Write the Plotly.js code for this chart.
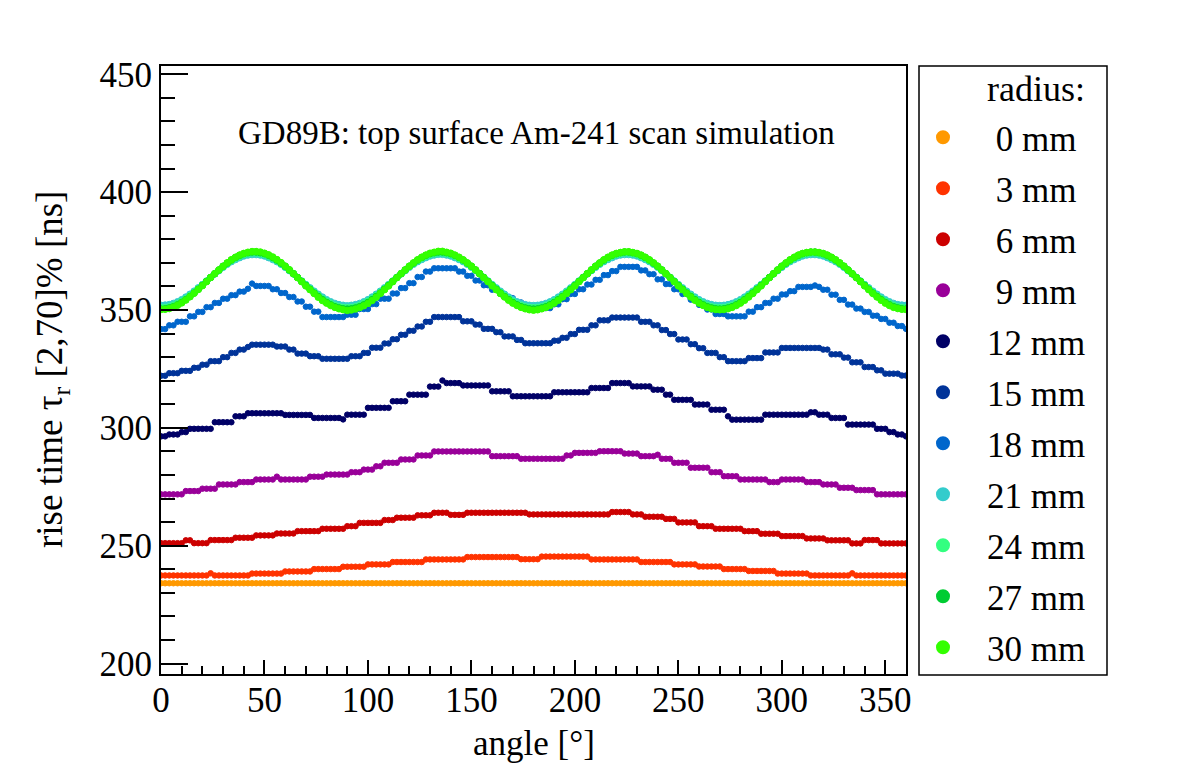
<!DOCTYPE html>
<html>
<head>
<meta charset="utf-8">
<script src="https://cdn.plot.ly/plotly-3.0.1.min.js"></script>
<style>
  html, body { margin: 0; padding: 0; background: #ffffff; }
  #chart { width: 1182px; height: 782px; }
</style>
</head>
<body>
<div id="chart"></div>
<script>
// scan angle in degrees
const angles = [
  0,2,4,6,8,10,12,14,16,18,
  20,22,24,26,28,30,32,34,36,38,
  40,42,44,46,48,50,52,54,56,58,
  60,62,64,66,68,70,72,74,76,78,
  80,82,84,86,88,90,92,94,96,98,
  100,102,104,106,108,110,112,114,116,118,
  120,122,124,126,128,130,132,134,136,138,
  140,142,144,146,148,150,152,154,156,158,
  160,162,164,166,168,170,172,174,176,178,
  180,182,184,186,188,190,192,194,196,198,
  200,202,204,206,208,210,212,214,216,218,
  220,222,224,226,228,230,232,234,236,238,
  240,242,244,246,248,250,252,254,256,258,
  260,262,264,266,268,270,272,274,276,278,
  280,282,284,286,288,290,292,294,296,298,
  300,302,304,306,308,310,312,314,316,318,
  320,322,324,326,328,330,332,334,336,338,
  340,342,344,346,348,350,352,354,356,358,
  360
];

// legend labels (source radius)
const radiusLabels = ['\u00a00 mm','\u00a03 mm','\u00a06 mm','\u00a09 mm','12 mm','15 mm','18 mm','21 mm','24 mm','27 mm','30 mm'];
const radiusColors = ['#ff9900','#ff3300','#cc0000','#990099','#000066','#003399','#0066cc','#33cccc','#33ff80','#00cc33','#33ff00'];

// rise time tau_r [2,70]% in ns, one array per radius
const rt0mm = [
  234.1,234.1,234.1,234.1,234.1,234.1,234.1,234.1,234.1,234.1,
  234.1,234.1,234.1,234.1,234.1,234.1,234.1,234.1,234.1,234.1,
  234.1,234.1,234.1,234.1,234.1,234.1,234.1,234.1,234.1,234.1,
  234.1,234.1,234.1,234.1,234.1,234.1,234.1,234.1,234.1,234.1,
  234.1,234.1,234.1,234.1,234.1,234.1,234.1,234.1,234.1,234.1,
  234.1,234.1,234.1,234.1,234.1,234.1,234.1,234.1,234.1,234.1,
  234.1,234.1,234.1,234.1,234.1,234.1,234.1,234.1,234.1,234.1,
  234.1,234.1,234.1,234.1,234.1,234.1,234.1,234.1,234.1,234.1,
  234.1,234.1,234.1,234.1,234.1,234.1,234.1,234.1,234.1,234.1,
  234.1,234.1,234.1,234.1,234.1,234.1,234.1,234.1,234.1,234.1,
  234.1,234.1,234.1,234.1,234.1,234.1,234.1,234.1,234.1,234.1,
  234.1,234.1,234.1,234.1,234.1,234.1,234.1,234.1,234.1,234.1,
  234.1,234.1,234.1,234.1,234.1,234.1,234.1,234.1,234.1,234.1,
  234.1,234.1,234.1,234.1,234.1,234.1,234.1,234.1,234.1,234.1,
  234.1,234.1,234.1,234.1,234.1,234.1,234.1,234.1,234.1,234.1,
  234.1,234.1,234.1,234.1,234.1,234.1,234.1,234.1,234.1,234.1,
  234.1,234.1,234.1,234.1,234.1,234.1,234.1,234.1,234.1,234.1,
  234.1,234.1,234.1,234.1,234.1,234.1,234.1,234.1,234.1,234.1,
  234.1
];

const rt3mm = [
  237.4,237.4,237.4,237.4,237.4,237.4,237.4,237.4,237.4,237.4,
  237.4,237.4,238.3,237.4,237.4,237.4,237.4,237.4,237.4,237.4,
  237.4,237.4,238.2,238.2,238.2,238.2,238.2,238.2,238.2,238.2,
  239.1,239.1,239.1,239.1,239.1,239.1,239.1,240.1,240.1,240.1,
  240.1,240.1,240.1,240.1,241.1,241.1,241.1,241.1,241.1,241.1,
  242.1,242.1,242.1,242.1,242.1,242.1,243.1,243.1,243.1,243.1,
  243.1,243.1,243.1,243.1,244.2,244.2,244.2,244.2,244.2,244.2,
  244.2,244.2,244.2,244.2,245.2,245.2,245.2,245.2,245.2,245.2,
  245.2,245.2,245.2,245.2,245.2,245.2,245.2,244.3,244.3,244.3,
  244.3,244.3,245.4,245.4,245.4,245.4,245.4,245.4,245.4,245.4,
  245.4,245.4,245.4,245.4,244.2,244.2,244.2,244.2,244.2,244.2,
  244.2,244.2,244.2,244.2,244.2,244.2,243.1,243.1,243.1,243.1,
  243.1,243.1,243.1,243.1,242.1,242.1,242.1,242.1,242.1,242.1,
  241.2,241.2,241.2,241.2,241.2,241.2,240.1,240.1,240.1,240.1,
  240.1,240.1,239.3,239.3,239.3,239.3,239.3,239.3,239.3,238.2,
  238.2,238.2,238.2,238.2,238.2,238.2,238.2,237.4,237.4,237.4,
  237.4,237.4,237.4,237.4,237.4,237.4,237.4,238.3,237.4,237.4,
  237.4,237.4,237.4,237.4,237.4,237.4,237.4,237.4,237.4,237.4,
  237.4
];

const rt6mm = [
  251.1,251.1,251.1,251.1,251.1,251.1,252.3,252.3,251.1,251.1,
  251.1,251.1,252.4,252.4,252.4,252.4,252.4,252.4,253.4,253.4,
  253.4,253.4,253.4,254.4,254.4,254.4,254.4,254.4,255.2,255.2,
  255.2,255.2,255.2,256.2,256.2,256.2,256.2,256.2,256.2,257.2,
  257.2,257.2,257.2,257.2,257.2,258.3,258.3,258.3,259.7,259.7,
  259.7,259.7,259.7,259.7,260.9,260.9,260.9,261.9,261.9,261.9,
  261.9,261.9,262.9,262.9,262.9,262.9,264.0,264.0,264.0,264.0,
  263.1,263.1,263.1,263.1,264.0,264.0,264.0,264.0,264.0,264.0,
  264.0,264.0,264.0,264.0,264.0,264.0,264.0,264.0,264.0,263.3,
  263.3,263.3,263.3,263.3,263.3,263.3,263.3,263.3,263.3,263.3,
  263.3,263.3,263.3,263.3,263.3,263.3,263.3,263.3,263.3,264.3,
  264.3,264.3,264.3,264.3,263.3,263.3,263.3,262.3,262.3,262.3,
  262.3,262.3,261.4,261.4,261.4,259.9,259.9,259.9,259.9,259.9,
  258.3,258.3,258.3,258.3,257.2,257.2,257.2,257.2,257.2,257.2,
  257.2,256.2,256.2,256.2,256.2,255.1,255.1,255.1,255.1,255.1,
  254.1,254.1,254.1,254.1,254.1,254.1,253.1,253.1,253.1,253.1,
  253.1,252.3,252.3,252.3,252.3,252.3,252.3,251.0,251.0,251.0,
  252.4,252.4,252.4,252.4,251.0,251.0,251.0,251.0,251.0,251.0,
  251.0
];

const rt9mm = [
  271.8,271.8,271.8,271.8,271.8,271.8,273.2,273.2,273.2,273.2,
  274.2,274.2,274.2,274.2,276.0,276.0,276.0,276.0,276.0,277.0,
  277.0,277.0,277.0,278.1,278.1,278.1,278.1,278.1,279.3,278.1,
  278.1,278.1,278.1,278.1,278.1,278.1,279.3,279.3,279.3,279.3,
  280.2,280.2,280.2,280.2,280.2,280.2,281.2,281.2,281.2,282.3,
  282.3,282.3,283.7,283.7,285.2,285.2,285.2,285.2,286.6,286.6,
  286.6,286.6,288.3,288.3,288.3,288.3,290.0,290.0,290.0,290.0,
  290.0,290.0,290.0,290.0,290.0,290.0,290.0,290.0,290.0,290.0,
  288.0,288.0,288.0,288.0,288.0,288.0,288.0,286.9,286.9,286.9,
  286.9,286.9,286.9,286.9,286.9,286.9,286.9,286.9,288.3,288.3,
  289.4,289.4,289.4,289.4,289.4,289.4,290.1,290.1,290.1,290.1,
  290.1,290.1,289.1,289.1,289.1,289.1,288.0,288.0,288.0,288.0,
  288.6,286.9,286.9,286.9,285.2,285.2,285.2,285.2,283.1,283.1,
  283.1,283.1,283.1,281.2,281.2,281.2,279.5,279.5,279.5,279.5,
  278.1,278.1,278.1,278.1,278.1,278.1,278.1,277.0,277.0,277.0,
  278.1,278.1,278.1,278.1,278.1,278.1,277.0,277.0,277.0,277.0,
  276.0,276.0,276.0,276.0,274.6,274.6,274.6,274.6,273.6,273.6,
  273.6,273.6,273.6,271.8,271.8,271.8,271.8,271.8,271.8,271.8,
  271.8
];

const rt12mm = [
  296.4,296.4,297.2,297.2,297.2,298.2,298.2,299.6,299.6,299.6,
  299.6,299.6,299.6,302.4,302.4,302.4,302.4,302.4,304.9,304.9,
  304.9,306.2,306.2,306.2,306.2,306.2,306.2,306.2,306.2,306.2,
  305.5,305.5,305.5,305.5,305.5,305.5,305.5,304.2,304.2,304.2,
  304.2,304.2,304.2,304.2,303.6,305.6,305.6,305.6,305.6,305.6,
  308.5,308.5,308.5,308.5,308.5,308.5,311.3,311.3,311.3,311.3,
  314.1,314.1,314.1,314.1,314.1,317.5,317.5,317.5,320.1,319.0,
  319.0,319.0,319.0,318.0,318.0,318.0,318.0,318.0,318.0,318.0,
  315.5,315.5,315.5,315.5,315.5,313.4,313.4,313.4,313.4,313.4,
  313.4,313.4,313.4,313.4,313.4,315.1,315.1,315.1,315.1,315.1,
  315.1,315.1,315.1,315.1,316.9,316.9,316.9,316.9,316.9,319.0,
  319.0,319.0,319.0,319.0,317.6,317.6,317.6,317.6,317.6,316.2,
  316.2,316.2,314.1,314.1,311.9,311.9,311.9,311.9,311.9,309.9,
  309.9,309.9,309.9,307.7,307.7,307.7,307.7,304.9,303.5,303.5,
  303.5,303.5,303.5,303.5,303.5,303.5,305.6,305.6,305.6,305.6,
  305.6,305.6,305.6,305.6,305.6,305.6,305.6,306.6,306.6,305.6,
  305.6,305.6,304.2,304.2,304.2,304.2,301.4,301.4,301.4,301.4,
  301.4,301.4,301.4,299.6,299.6,299.6,298.2,298.2,297.2,297.2,
  296.4
];

const rt15mm = [
  322.1,322.1,323.2,323.2,323.2,324.2,324.2,324.2,325.5,325.5,
  326.8,326.8,328.3,328.3,328.3,330.0,330.0,331.8,331.8,333.2,
  333.2,334.3,335.3,335.3,335.3,335.3,335.3,335.3,334.5,334.5,
  334.5,333.2,333.2,331.5,331.5,331.5,330.4,330.4,330.4,329.3,
  329.3,329.3,329.3,329.3,329.3,329.3,330.4,330.4,330.4,331.8,
  331.8,334.0,334.0,334.0,335.8,335.8,337.6,337.6,339.5,339.5,
  341.2,341.2,343.0,343.0,345.0,345.0,347.0,347.0,347.0,347.0,
  347.0,347.0,347.0,345.2,345.2,345.2,343.8,343.8,342.0,342.0,
  342.0,340.6,340.6,338.8,338.8,338.8,337.3,337.3,335.9,335.9,
  335.9,335.9,335.9,335.9,335.9,337.0,337.0,338.2,338.2,339.8,
  339.8,341.6,341.6,341.6,343.5,343.5,345.6,345.6,345.6,346.8,
  346.8,346.8,346.8,346.8,346.8,346.8,345.0,345.0,345.0,343.5,
  343.5,341.5,341.5,339.8,339.8,337.5,337.5,337.5,335.5,335.5,
  333.8,333.8,331.8,331.8,331.8,330.0,330.0,328.3,328.3,328.3,
  328.3,328.3,329.6,329.6,329.6,329.6,332.0,332.0,332.0,332.0,
  333.9,333.9,333.9,333.9,333.9,333.9,333.9,333.9,333.9,333.9,
  333.2,333.2,331.2,331.2,331.2,329.8,329.8,327.8,327.8,327.8,
  325.8,325.8,325.8,324.4,324.4,323.0,323.0,323.0,323.0,322.2,
  322.2
];

const rt18mm = [
  341.9,341.9,343.5,343.5,345.0,345.0,345.0,347.3,347.3,349.2,
  349.2,351.2,351.2,353.0,353.0,354.8,354.8,356.3,356.3,357.8,
  357.8,359.0,361.2,360.2,360.2,360.2,360.2,358.8,358.8,357.2,
  357.2,355.5,355.5,353.6,353.6,351.4,351.4,349.3,349.3,347.0,
  347.0,347.0,347.0,347.0,347.0,348.0,348.0,348.0,350.4,350.4,
  350.4,352.5,352.5,354.8,354.8,354.8,357.0,357.0,359.3,359.3,
  361.4,361.4,364.0,364.0,366.3,366.3,367.7,367.7,367.7,367.7,
  367.7,367.7,366.3,366.3,364.5,364.5,362.5,362.5,360.5,360.5,
  358.6,358.6,356.8,356.8,355.0,355.0,353.2,353.2,352.0,350.8,
  350.8,350.8,350.8,350.8,350.8,352.4,352.4,354.6,354.6,356.8,
  356.8,358.8,358.8,360.8,360.8,362.8,362.8,364.8,364.8,366.5,
  366.5,368.3,368.3,368.3,368.3,368.3,366.8,366.8,365.2,365.2,
  363.0,363.0,361.0,361.0,358.8,358.8,356.8,356.8,354.4,354.4,
  352.2,352.2,350.2,350.2,348.3,348.3,348.3,347.3,347.3,347.3,
  347.3,347.3,349.3,349.3,351.2,351.2,353.0,353.0,354.8,354.8,
  356.6,356.6,358.0,358.0,359.8,359.8,359.8,359.8,360.4,359.8,
  358.6,358.6,356.5,356.5,354.3,354.3,352.3,352.3,350.6,350.6,
  349.2,349.2,347.6,347.6,346.2,346.2,344.6,344.6,343.2,343.2,
  342.0
];

const rt21mm = [
  352.0,352.1,352.3,352.8,353.5,354.4,355.5,356.7,358.0,359.4,
  360.8,362.3,363.8,365.3,366.7,368.1,369.4,370.5,371.4,372.2,
  372.9,373.3,373.5,373.5,373.3,372.9,372.2,371.4,370.5,369.4,
  368.1,366.7,365.3,363.8,362.3,360.8,359.4,358.0,356.7,355.5,
  354.4,353.5,352.8,352.3,352.0,351.8,352.0,352.3,352.8,353.5,
  354.4,355.5,356.7,358.0,359.4,360.8,362.3,363.8,365.3,366.7,
  368.1,369.4,370.5,371.4,372.2,372.9,373.3,373.6,373.6,373.3,
  372.9,372.2,371.4,370.5,369.4,368.1,366.7,365.3,363.8,362.3,
  360.8,359.4,358.0,356.7,355.5,354.4,353.5,352.8,352.3,352.0,
  351.9,352.0,352.3,352.8,353.5,354.4,355.5,356.7,358.0,359.4,
  360.8,362.3,363.8,365.3,366.7,368.1,369.4,370.5,371.4,372.2,
  372.9,373.3,373.5,373.5,373.3,372.9,372.2,371.4,370.5,369.4,
  368.1,366.7,365.3,363.8,362.3,360.8,359.4,358.0,356.7,355.5,
  354.4,353.5,352.8,352.3,352.0,351.9,352.0,352.3,352.8,353.5,
  354.4,355.5,356.7,358.0,359.4,360.8,362.3,363.8,365.3,366.7,
  368.1,369.4,370.5,371.4,372.2,372.9,373.3,373.5,373.5,373.3,
  372.9,372.2,371.4,370.5,369.4,368.1,366.7,365.3,363.8,362.3,
  360.8,359.4,358.0,356.7,355.5,354.4,353.5,352.8,352.3,352.1,
  352.0
];

const rt24mm = [
  351.0,351.1,351.4,352.0,352.8,353.7,354.8,356.1,357.5,359.0,
  360.6,362.2,363.8,365.4,366.9,368.4,369.7,370.9,372.0,372.8,
  373.5,373.9,374.2,374.2,373.9,373.5,372.8,372.0,370.9,369.7,
  368.4,366.9,365.4,363.8,362.2,360.6,359.0,357.5,356.1,354.8,
  353.7,352.8,352.0,351.4,351.1,351.0,351.1,351.4,352.0,352.8,
  353.7,354.8,356.1,357.5,359.0,360.6,362.2,363.8,365.4,366.9,
  368.4,369.7,370.9,372.0,372.8,373.5,373.9,374.2,374.2,373.9,
  373.5,372.8,372.0,370.9,369.7,368.4,366.9,365.4,363.8,362.2,
  360.6,359.0,357.5,356.1,354.8,353.7,352.8,352.0,351.4,351.1,
  351.0,351.1,351.4,352.0,352.8,353.7,354.8,356.1,357.5,359.0,
  360.6,362.2,363.8,365.4,366.9,368.4,369.7,370.9,372.0,372.8,
  373.5,373.9,374.2,374.2,373.9,373.5,372.8,372.0,370.9,369.7,
  368.4,366.9,365.4,363.8,362.2,360.6,359.0,357.5,356.1,354.8,
  353.7,352.8,352.0,351.4,351.1,351.0,351.1,351.4,352.0,352.8,
  353.7,354.8,356.1,357.5,359.0,360.6,362.2,363.8,365.4,366.9,
  368.4,369.7,370.9,372.0,372.8,373.5,373.9,374.2,374.2,373.9,
  373.5,372.8,372.0,370.9,369.7,368.4,366.9,365.4,363.8,362.2,
  360.6,359.0,357.5,356.1,354.8,353.7,352.8,352.0,351.4,351.1,
  351.0
];

const rt27mm = [
  350.4,350.5,350.9,351.4,352.2,353.2,354.4,355.7,357.2,358.8,
  360.4,362.1,363.8,365.4,367.0,368.6,369.9,371.2,372.3,373.2,
  373.9,374.3,374.6,374.6,374.3,373.9,373.2,372.3,371.2,369.9,
  368.6,367.0,365.4,363.8,362.1,360.4,358.8,357.2,355.7,354.4,
  353.2,352.2,351.4,350.9,350.5,350.4,350.5,350.9,351.4,352.2,
  353.2,354.4,355.7,357.2,358.8,360.4,362.1,363.8,365.4,367.0,
  368.6,369.9,371.2,372.3,373.2,373.9,374.3,374.6,374.6,374.3,
  373.9,373.2,372.3,371.2,369.9,368.6,367.0,365.4,363.8,362.1,
  360.4,358.8,357.2,355.7,354.4,353.2,352.2,351.4,350.9,350.5,
  350.4,350.5,350.9,351.4,352.2,353.2,354.4,355.7,357.2,358.8,
  360.4,362.1,363.8,365.4,367.0,368.6,369.9,371.2,372.3,373.2,
  373.9,374.3,374.6,374.6,374.3,373.9,373.2,372.3,371.2,369.9,
  368.6,367.0,365.4,363.8,362.1,360.4,358.8,357.2,355.7,354.4,
  353.2,352.2,351.4,350.9,350.5,350.4,350.5,350.9,351.4,352.2,
  353.2,354.4,355.7,357.2,358.8,360.4,362.1,363.8,365.4,367.0,
  368.6,369.9,371.2,372.3,373.2,373.9,374.3,374.6,374.6,374.3,
  373.9,373.2,372.3,371.2,369.9,368.6,367.0,365.4,363.8,362.1,
  360.4,358.8,357.2,355.7,354.4,353.2,352.2,351.4,350.9,350.5,
  350.4
];

const rt30mm = [
  350.2,350.3,350.6,351.2,352.0,353.0,354.2,355.6,357.1,358.7,
  360.3,362.0,363.8,365.4,367.0,368.5,370.0,371.3,372.4,373.3,
  374.0,374.5,374.8,374.8,374.6,374.1,373.4,372.5,371.4,370.1,
  368.6,367.1,365.4,363.7,362.0,360.2,358.6,357.0,355.4,354.0,
  352.9,351.9,351.1,350.5,350.1,349.8,350.0,350.4,351.0,351.8,
  352.8,354.0,355.4,357.0,358.6,360.2,362.0,363.7,365.4,367.0,
  368.6,370.0,371.3,372.4,373.3,374.1,374.5,374.9,374.9,374.5,
  374.1,373.3,372.4,371.3,370.0,368.6,367.0,365.4,363.7,362.0,
  360.2,358.6,357.0,355.5,354.1,352.9,351.9,351.1,350.5,350.1,
  349.9,350.1,350.5,351.1,351.9,352.9,354.1,355.5,357.0,358.6,
  360.2,362.0,363.7,365.4,367.0,368.6,370.0,371.3,372.4,373.3,
  374.0,374.4,374.7,374.7,374.4,374.0,373.3,372.4,371.3,370.0,
  368.6,367.0,365.4,363.7,362.0,360.2,358.6,357.0,355.5,354.1,
  352.9,351.9,351.1,350.5,350.2,350.1,350.2,350.5,351.1,351.9,
  352.9,354.1,355.5,357.0,358.6,360.2,362.0,363.7,365.4,367.0,
  368.6,370.0,371.3,372.4,373.3,374.0,374.4,374.6,374.6,374.4,
  374.0,373.3,372.4,371.3,370.0,368.6,367.0,365.4,363.7,362.0,
  360.2,358.6,357.0,355.5,354.1,352.9,351.9,351.1,350.6,350.3,
  350.2
];

const riseTimes = [rt0mm, rt3mm, rt6mm, rt9mm, rt12mm, rt15mm, rt18mm, rt21mm, rt24mm, rt27mm, rt30mm];

const traces = riseTimes.map((vals, k) => ({
  type: 'scatter',
  mode: 'markers',
  x: angles,
  y: vals,
  name: radiusLabels[k],
  legendgroup: 'r' + k,
  hoverinfo: 'skip',
  marker: {
    color: radiusColors[k],
    size: k >= 7 ? 6.5 : 5.5,
    line: { width: 1, color: radiusColors[k] }
  }
}));

// plot frame in pixels: x 161..906, y 66..674
const L = 161, R = 906, T = 66, B = 674;
const px = v => (v - L) / (R - L);
const py = v => (B - v) / (B - T);

const serif = 'Liberation Serif, Times New Roman, serif';

const layout = {
  width: 1182,
  height: 782,
  margin: { l: L, r: 1182 - R, t: T, b: 782 - B, pad: 0 },
  paper_bgcolor: '#ffffff',
  plot_bgcolor: '#ffffff',
  font: { family: serif, size: 35, color: '#000000' },
  showlegend: true,
  legend: {
    x: px(899), xanchor: 'left',
    y: py(108), yanchor: 'top',
    itemwidth: 78,
    itemsizing: 'constant',
    traceorder: 'grouped',
    tracegroupgap: 2.5,
    bgcolor: 'rgba(0,0,0,0)',
    borderwidth: 0,
    font: { family: serif, size: 35, color: '#000000' }
  },
  xaxis: {
    range: [0, 360],
    tick0: 0, dtick: 50,
    ticks: 'inside', ticklen: 14, tickwidth: 2, tickcolor: '#000000',
    ticklabelstandoff: -6,
    minor: { ticks: 'inside', dtick: 10, ticklen: 8, tickwidth: 2, tickcolor: '#000000', showgrid: false },
    showline: true, linewidth: 2, linecolor: '#000000', mirror: true,
    showgrid: false, zeroline: false,
    tickfont: { family: serif, size: 35, color: '#000000' }
  },
  yaxis: {
    range: [195.6, 453.5],
    tick0: 0, dtick: 50,
    ticks: 'inside', ticklen: 27, tickwidth: 2, tickcolor: '#000000',
    minor: { ticks: 'inside', dtick: 10, ticklen: 14, tickwidth: 2, tickcolor: '#000000', showgrid: false },
    showline: true, linewidth: 2, linecolor: '#000000', mirror: true,
    showgrid: false, zeroline: false,
    tickfont: { family: serif, size: 35, color: '#000000' }
  },
  shapes: [
    { type: 'rect', xref: 'paper', yref: 'paper',
      x0: px(919), x1: px(1107), y0: py(675), y1: py(66),
      line: { color: '#000000', width: 1.5 }, fillcolor: 'rgba(0,0,0,0)' }
  ],
  annotations: [
    { text: 'GD89B: top surface Am-241 scan simulation',
      xref: 'paper', yref: 'paper', x: px(536), y: py(133),
      xanchor: 'center', yanchor: 'middle', showarrow: false,
      font: { family: serif, size: 33, color: '#000000' } },
    { text: 'radius:',
      xref: 'paper', yref: 'paper', x: px(985), y: py(89),
      xanchor: 'left', yanchor: 'middle', showarrow: false,
      font: { family: serif, size: 36, color: '#000000' } },
    { text: 'angle [°]',
      xref: 'paper', yref: 'paper', x: px(533.5), y: py(743),
      xanchor: 'center', yanchor: 'middle', showarrow: false,
      font: { family: serif, size: 35, color: '#000000' } },
    { text: 'rise time τ<sub>r</sub> [2,70]% [ns]',
      xref: 'paper', yref: 'paper', x: px(52), y: py(370),
      xanchor: 'center', yanchor: 'middle', textangle: -90, showarrow: false,
      font: { family: serif, size: 37, color: '#000000' } }
  ]
};

Plotly.newPlot('chart', traces, layout, { staticPlot: true, displayModeBar: false });
</script>
</body>
</html>
